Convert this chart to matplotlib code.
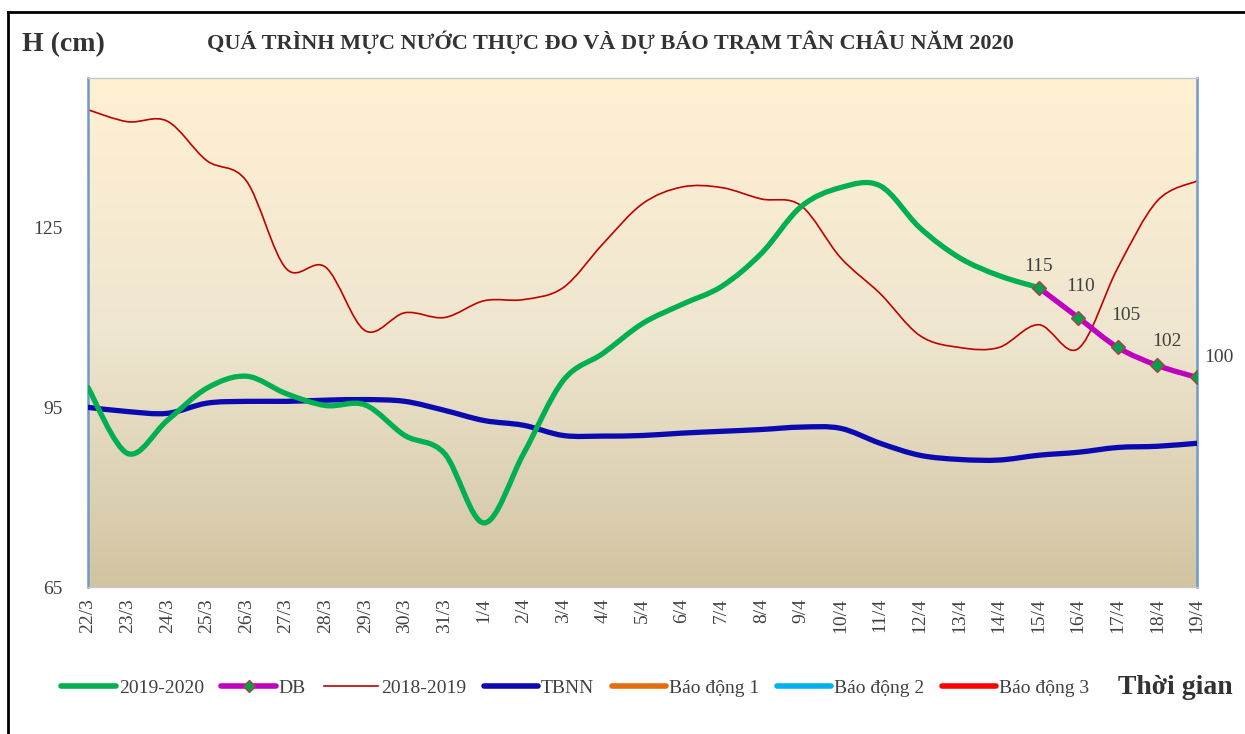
import numpy as np
import matplotlib
matplotlib.use("Agg")
import matplotlib.pyplot as plt
from matplotlib.path import Path
from matplotlib.patches import PathPatch
from matplotlib.lines import Line2D
from matplotlib.colors import LinearSegmentedColormap

plt.rcParams['font.family'] = ['Liberation Serif', 'DejaVu Serif']

# ngày (trục hoành)
dates = ['22/3', '23/3', '24/3', '25/3', '26/3', '27/3', '28/3', '29/3', '30/3', '31/3',
         '1/4', '2/4', '3/4', '4/4', '5/4', '6/4', '7/4', '8/4', '9/4', '10/4',
         '11/4', '12/4', '13/4', '14/4', '15/4', '16/4', '17/4', '18/4', '19/4']

# mực nước thực đo 2019-2020 (đến 15/4)
h_2020 = [98.3, 87.3, 92.8, 98.2, 100.2, 97.3, 95.3, 95.4, 90.3, 87.3,
          75.7, 87.3, 99.5, 104.0, 109.0, 112.2, 115.2, 120.7, 128.5, 131.7,
          132.0, 125.0, 120.0, 117.0, 115.0]

# dự báo 15/4 - 19/4
db_dates = ['15/4', '16/4', '17/4', '18/4', '19/4']
h_db = [115, 110, 105, 102, 100]

# cùng kỳ 2018-2019
h_2019 = [144.7, 142.7, 142.8, 136.2, 132.8, 118.2, 118.4, 107.8, 110.8, 110.0,
          112.8, 113.0, 115.0, 122.3, 129.0, 131.8, 131.7, 129.8, 128.7, 120.0,
          114.0, 107.0, 105.0, 105.0, 108.8, 104.8, 118.3, 129.5, 132.8]

# trung bình nhiều năm
h_tbnn = [95.0, 94.3, 94.0, 95.7, 96.0, 96.0, 96.2, 96.3, 96.0, 94.5,
          92.8, 92.0, 90.3, 90.2, 90.3, 90.7, 91.0, 91.3, 91.7, 91.5,
          89.0, 87.0, 86.3, 86.2, 87.0, 87.5, 88.3, 88.5, 89.0]

yticks = [65, 95, 125]


def smooth_path(x, y):
    # excel-like smoothed line: catmull-rom segments as cubic bezier
    pts = np.column_stack([np.asarray(x, float), np.asarray(y, float)])
    verts = [pts[0]]
    codes = [Path.MOVETO]
    n = len(pts)
    for i in range(n - 1):
        p0 = pts[i - 1] if i > 0 else pts[i]
        p1 = pts[i]
        p2 = pts[i + 1]
        p3 = pts[i + 2] if i + 2 < n else pts[i + 1]
        verts += [p1 + (p2 - p0) / 6.0, p2 - (p3 - p1) / 6.0, p2]
        codes += [Path.CURVE4] * 3
    return Path(verts, codes)


def draw_smooth(ax, x, y, color, lw, z):
    patch = PathPatch(smooth_path(x, y), fill=False, edgecolor=color, lw=lw,
                      capstyle='round', joinstyle='round', zorder=z)
    ax.add_patch(patch)


fig = plt.figure(figsize=(12.45, 7.34), dpi=100)
ax = fig.add_axes([88 / 1245, 1 - 587 / 734, (1197 - 88) / 1245, (587 - 78) / 734])

ax.set_xlim(0, len(dates) - 1)
ax.set_ylim(65, 150)

# nền chuyển màu
grad = np.linspace(0, 1, 256).reshape(-1, 1)
bg = LinearSegmentedColormap.from_list('bg', ['#fff0d2', '#efe6d0', '#d1c4a1'])
ax.imshow(grad, cmap=bg, aspect='auto', extent=(0, len(dates) - 1, 65, 150),
          zorder=0, origin='upper')

x_all = np.arange(len(dates))
x_db = [dates.index(d) for d in db_dates]

draw_smooth(ax, x_all, h_2019, '#c00000', 1.2, 2)
draw_smooth(ax, x_all, h_tbnn, '#0a0ab0', 3.8, 3)
draw_smooth(ax, x_all[:len(h_2020)], h_2020, '#00b050', 3.8, 4)
draw_smooth(ax, x_db, h_db, '#c000c0', 3.8, 5)
ax.plot(x_db, h_db, linestyle='none', marker='D', markersize=7,
        markerfacecolor='#00a050', markeredgecolor='#b04040', markeredgewidth=1.0, zorder=6)

label_offsets = [(0, 15), (2, 22), (6, 23), (7, 17), (16, 14)]
for xi, v, off in zip(x_db, h_db, label_offsets):
    ax.annotate(str(v), (xi, v), xytext=off, textcoords='offset points',
                ha='center', va='center', fontsize=14, color='#404040', zorder=7,
                annotation_clip=False)

ax.set_xticks(x_all)
ax.set_xticklabels(dates, rotation=90, fontsize=14, color='#404040')
ax.set_yticks(yticks)
ax.set_yticklabels([str(t) for t in yticks], fontsize=14, color='#404040')
ax.tick_params(axis='both', length=0)
ax.tick_params(axis='y', pad=18)
ax.tick_params(axis='x', pad=8)

for side in ('left', 'right'):
    ax.spines[side].set_color('#6f98d0')
    ax.spines[side].set_linewidth(1.8)
for side in ('top', 'bottom'):
    ax.spines[side].set_color('#c8c8c8')
    ax.spines[side].set_linewidth(1.0)

# khung ngoài
fig.add_artist(Line2D([8 / 1245, 1.0], [1 - 12 / 734] * 2, transform=fig.transFigure,
                      color='black', lw=2))
fig.add_artist(Line2D([8 / 1245] * 2, [0.0, 1 - 12 / 734], transform=fig.transFigure,
                      color='black', lw=2))

fig.text(22 / 1245, 1 - 45 / 734, 'H (cm)', fontsize=20, fontweight='bold',
         color='#333333', ha='left', va='center')
fig.text(610 / 1245, 1 - 42 / 734,
         'QUÁ TRÌNH MỰC NƯỚC THỰC ĐO VÀ DỰ BÁO TRẠM TÂN CHÂU NĂM 2020',
         fontsize=16, fontweight='bold', color='#333333', ha='center', va='center')
fig.text(1118 / 1245, 1 - 688 / 734, 'Thời gian', fontsize=20, fontweight='bold',
         color='#333333', ha='left', va='center')

handles = [
    Line2D([], [], color='#00b050', lw=4, solid_capstyle='round'),
    Line2D([], [], color='#c000c0', lw=4, solid_capstyle='round', marker='D',
           markersize=6, markerfacecolor='#00a050', markeredgecolor='#b04040'),
    Line2D([], [], color='#c00000', lw=1.2),
    Line2D([], [], color='#0a0ab0', lw=4, solid_capstyle='round'),
    Line2D([], [], color='#e46c0a', lw=4, solid_capstyle='round'),
    Line2D([], [], color='#00b0f0', lw=4, solid_capstyle='round'),
    Line2D([], [], color='#ff0000', lw=4, solid_capstyle='round'),
]
labels = ['2019-2020', 'DB', '2018-2019', 'TBNN', 'Báo động 1', 'Báo động 2', 'Báo động 3']
fig.legend(handles, labels, loc='center left', bbox_to_anchor=(44 / 1245, 1 - 688 / 734),
           ncol=7, frameon=False, fontsize=14, handlelength=2.8, handletextpad=0.15,
           columnspacing=0.9, labelcolor='#404040')

fig.savefig('out.png', dpi=100)
